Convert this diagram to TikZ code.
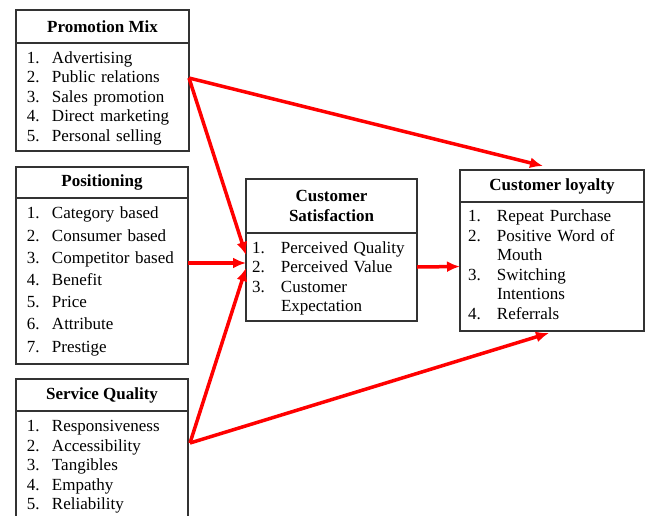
\documentclass[tikz,border=0pt]{standalone}
\usepackage{fontspec}
\setmainfont{Liberation Serif}
\usepackage{tikz}
\usetikzlibrary{positioning,arrows.meta}

\newcommand{\factorlist}[2]{\begin{tabular}{@{}p{#1}@{}l@{}}#2\end{tabular}}

\begin{document}
\begin{tikzpicture}[x=1pt,y=-1pt,>={Latex[length=13pt,width=11pt]},
						head/.style={draw=black!80, line width=1.2pt, outer sep=0pt, inner sep=0pt,
							font=\fontsize{17}{20.5}\selectfont\bfseries, align=center},
						body/.style={draw=black!80, line width=1.2pt, outer sep=0pt, inner ysep=0pt,
							font=\fontsize{17}{19.5}\selectfont, align=left},
						link/.style={->, red, line width=3.5pt}]

						\clip (0,0) rectangle (645,515);

						%%% Promotion Mix
						\node at (16,10) [head, anchor=north west, minimum width=173pt, minimum height=33pt] (pmh) {Promotion Mix};
						\node [below=0pt of pmh, body, minimum height=108pt, text width=151pt, inner xsep=11pt] (pmb)
							{\factorlist{25pt}{1. & Advertising\\ 2. & Public relations\\ 3. & Sales promotion\\ 4. & Direct marketing\\ 5. & Personal selling\\[-3pt]}};

						%%% Positioning
						\node at (16,167) [head, anchor=north west, minimum width=172pt, minimum height=31pt] (posh) {Positioning};
						\node [below=0pt of posh, body, font=\fontsize{17}{22.2}\selectfont, minimum height=166pt, text width=150pt, inner xsep=11pt] (posb)
							{\factorlist{25pt}{1. & Category based\\ 2. & Consumer based\\ 3. & Competitor based\\ 4. & Benefit\\ 5. & Price\\ 6. & Attribute\\ 7. & Prestige}};

						%%% Service Quality
						\node at (16,379) [head, anchor=north west, minimum width=172pt, minimum height=32pt] (sqh) {Service Quality};
						\node [below=0pt of sqh, body, minimum height=120pt, text width=150pt, inner xsep=11pt, anchor=north] (sqb)
							{\factorlist{25pt}{1. & Responsiveness\\ 2. & Accessibility\\ 3. & Tangibles\\ 4. & Empathy\\ 5. & Reliability\\[8pt]}};

						%%% Customer Satisfaction
						\node at (246,179) [head, anchor=north west, minimum width=171pt, minimum height=54pt] (csh) {Customer\\Satisfaction};
						\node [below=0pt of csh, body, minimum height=88pt, text width=159pt, inner xsep=6pt] (csb)
							{\factorlist{29pt}{1. & Perceived Quality\\ 2. & Perceived Value\\ 3. & Customer\\ & Expectation\\[-3pt]}};

						%%% Customer loyalty
						\node at (460,170) [head, anchor=north west, minimum width=184pt, minimum height=32pt] (clh) {Customer loyalty};
						\node [below=0pt of clh, body, minimum height=129pt, text width=168pt, inner xsep=8pt] (clb)
							{\factorlist{29pt}{1. & Repeat Purchase\\ 2. & Positive Word of\\ & Mouth\\ 3. & Switching\\ & Intentions\\ 4. & Referrals}};

						%% links into satisfaction and loyalty
						\draw [link] ([yshift=19pt]pmb.east) -- ([xshift=-9pt,yshift=4pt]clh.north);
						\draw [link] ([yshift=19pt]pmb.east) -- ([yshift=22pt]csb.west);
						\draw [link] ([yshift=18pt]posb.east) -- ([yshift=14pt]csb.west);
						\draw [link] ([xshift=2pt,yshift=28pt]sqb.east) -- ([yshift=9pt]csb.west);
						\draw [link] ([xshift=2pt,yshift=28pt]sqb.east) -- ([xshift=-3pt,yshift=-2pt]clb.south);
						\draw [link] ([yshift=10pt]csb.east) -- (clb.west);
					\end{tikzpicture}
\end{document}
